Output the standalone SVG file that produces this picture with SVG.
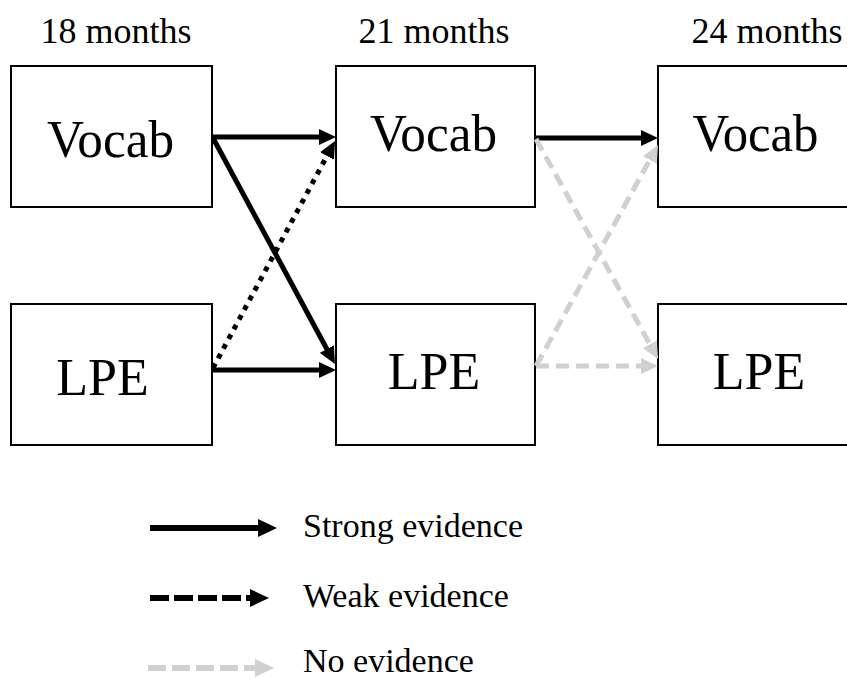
<svg xmlns="http://www.w3.org/2000/svg" width="847" height="679" viewBox="0 0 847 679">
<style>
.box{fill:#fff;stroke:#000;stroke-width:2}
.hdr{font-family:"Liberation Serif","Times New Roman",serif;font-size:36px;fill:#000;text-anchor:middle}
.lbl{font-family:"Liberation Serif","Times New Roman",serif;font-size:52px;fill:#000;text-anchor:middle}
.leg{font-family:"Liberation Serif","Times New Roman",serif;font-size:34px;fill:#000}
.strong{stroke:#000;stroke-width:5;fill:none;marker-end:url(#ab)}
.weak{stroke:#000;stroke-width:5;fill:none;stroke-dasharray:5 6;marker-end:url(#ab)}
.none{stroke:#d0d0d0;stroke-width:5;fill:none;stroke-dasharray:13 7;marker-end:url(#ag)}
</style>
<defs>
<marker id="ab" markerUnits="userSpaceOnUse" viewBox="0 0 17 16" markerWidth="17" markerHeight="16" refX="7" refY="8" orient="auto"><path d="M0,0 L17,8 L0,16 z" fill="#000"/></marker>
<marker id="ag" markerUnits="userSpaceOnUse" viewBox="0 0 17 16" markerWidth="17" markerHeight="16" refX="7" refY="8" orient="auto"><path d="M0,0 L17,8 L0,16 z" fill="#d0d0d0"/></marker>
<marker id="abL" markerUnits="userSpaceOnUse" viewBox="0 0 19 18" markerWidth="19" markerHeight="18" refX="9" refY="9" orient="auto"><path d="M0,0 L19,9 L0,18 z" fill="#000"/></marker>
<marker id="agL" markerUnits="userSpaceOnUse" viewBox="0 0 19 18" markerWidth="19" markerHeight="18" refX="9" refY="9" orient="auto"><path d="M0,0 L19,9 L0,18 z" fill="#d0d0d0"/></marker>
</defs>
<g id="headers">
<text class="hdr" x="116" y="43">18 months</text>
<text class="hdr" x="434" y="43">21 months</text>
<text class="hdr" x="767" y="43">24 months</text>
</g>
<g id="vocab18"><rect class="box" x="11" y="66" width="201" height="141"/><text class="lbl" x="110.5" y="157" textLength="127" lengthAdjust="spacingAndGlyphs">Vocab</text></g>
<g id="vocab21"><rect class="box" x="336" y="66" width="199" height="141"/><text class="lbl" x="433.5" y="151" textLength="127" lengthAdjust="spacingAndGlyphs">Vocab</text></g>
<g id="vocab24"><rect class="box" x="658" y="66" width="200" height="141"/><text class="lbl" x="755.5" y="151" textLength="126" lengthAdjust="spacingAndGlyphs">Vocab</text></g>
<g id="lpe18"><rect class="box" x="11" y="304" width="201" height="141"/><text class="lbl" x="102.5" y="395">LPE</text></g>
<g id="lpe21"><rect class="box" x="336" y="304" width="199" height="141"/><text class="lbl" x="434" y="389">LPE</text></g>
<g id="lpe24"><rect class="box" x="658" y="304" width="200" height="141"/><text class="lbl" x="759" y="389">LPE</text></g>
<g id="connectors">
<line class="strong" x1="212" y1="137" x2="326" y2="137"/>
<line class="strong" x1="213" y1="138" x2="330.2" y2="355.2"/>
<line class="strong" x1="212" y1="370" x2="326" y2="370"/>
<line class="weak" x1="213" y1="368" x2="330.3" y2="149.8"/>
<line class="strong" x1="536" y1="138" x2="648" y2="138"/>
<line class="none" x1="536" y1="139" x2="653.2" y2="350.3"/>
<line class="none" x1="536" y1="366" x2="653.2" y2="153.8"/>
<line class="none" x1="536" y1="366" x2="648" y2="366"/>
</g>
<g id="legend">
<line x1="150" y1="528" x2="267" y2="528" stroke="#000" stroke-width="6" marker-end="url(#abL)"/>
<text class="leg" x="303" y="537">Strong evidence</text>
<line x1="150" y1="598" x2="259" y2="598" stroke="#000" stroke-width="6" stroke-dasharray="19 5" marker-end="url(#abL)"/>
<text class="leg" x="303" y="607">Weak evidence</text>
<line x1="148" y1="668" x2="264" y2="668" stroke="#d0d0d0" stroke-width="6" stroke-dasharray="18 6" marker-end="url(#agL)"/>
<text class="leg" x="303" y="672">No evidence</text>
</g>
</svg>
